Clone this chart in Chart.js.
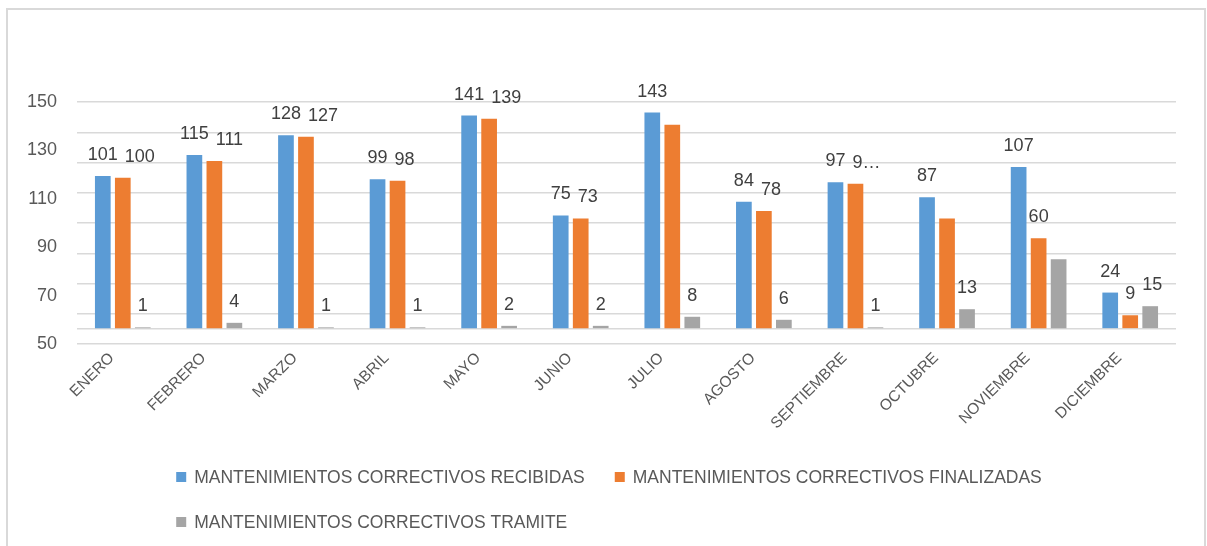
<!DOCTYPE html>
<html>
<head>
<meta charset="utf-8">
<title>Mantenimientos correctivos</title>
<script src="https://cdn.jsdelivr.net/npm/chart.js@4.4.1/dist/chart.umd.min.js"></script>
<style>
  html, body { margin: 0; padding: 0; background: #fff; overflow: hidden; }
  #frame { position: absolute; left: 6px; top: 8px; width: 1196px; height: 600px; border: 2px solid #d9d9d9; }
  #clip { width: 1196px; height: 518px; overflow: hidden; }
  canvas { display: block; }
</style>
</head>
<body>
<div id="frame"><div id="clip"><canvas id="chart" width="1196" height="560"></canvas></div></div>
<script>
// datos
const months = ['ENERO', 'FEBRERO', 'MARZO', 'ABRIL', 'MAYO', 'JUNIO', 'JULIO',
                'AGOSTO', 'SEPTIEMBRE', 'OCTUBRE', 'NOVIEMBRE', 'DICIEMBRE'];
const recibidas   = [101, 115, 128, 99, 141, 75, 143, 84, 97, 87, 107, 24];
const finalizadas = [100, 111, 127, 98, 139, 73, 135, 78, 96, 73, 60, 9];
const tramite     = [1, 4, 1, 1, 2, 2, 8, 6, 1, 13, 46, 15];

// etiquetas visibles sobre las barras ('' = sin etiqueta)
const recibidasLabels   = ['101', '115', '128', '99', '141', '75', '143', '84', '97', '87', '107', '24'];
const finalizadasLabels = ['100', '111', '127', '98', '139', '73', '', '78', '9…', '', '60', '9'];
const tramiteLabels     = ['1', '4', '1', '1', '2', '2', '8', '6', '1', '13', '', '15'];

const yTickLabels = [50, 70, 90, 110, 130, 150];
const gridValues = [-10, 0, 10, 30, 50, 70, 90, 110, 130, 150];

const family = "'Liberation Sans', Arial, sans-serif";
const labelSets = [recibidasLabels, finalizadasLabels, tramiteLabels];

const barLabels = {
  id: 'barLabels',
  afterDatasetsDraw(chart) {
    const ctx = chart.ctx;
    ctx.save();
    ctx.font = '18px ' + family;
    ctx.fillStyle = '#404040';
    ctx.textAlign = 'center';
    ctx.textBaseline = 'middle';
    months.forEach((m, i) => {
      const placed = [];
      labelSets.forEach((set, d) => {
        const text = set[i];
        if (!text) return;
        const el = chart.getDatasetMeta(d).data[i];
        const w = ctx.measureText(text).width;
        let cx = el.x;
        const cy = el.y - 21;
        placed.forEach(p => {
          if (Math.abs(cy - p.cy) < 18 && cx - w / 2 < p.right + 7) cx = p.right + 7 + w / 2;
        });
        placed.push({ cy, right: cx + w / 2 });
        ctx.fillText(text, cx, cy);
      });
    });
    ctx.restore();
  }
};

const bottomLegend = {
  id: 'bottomLegend',
  afterDraw(chart) {
    const ctx = chart.ctx;
    ctx.save();
    ctx.font = '17.5px ' + family;
    ctx.textAlign = 'left';
    ctx.textBaseline = 'middle';
    const items = chart.data.datasets.map(d => ({ text: d.label, color: d.backgroundColor, w: ctx.measureText(d.label).width }));
    const box = 10, gap = 8, colGap = 30;
    const rowW = items[0].w + items[1].w + 2 * (box + gap) + colGap;
    const x0 = chart.width / 2 - rowW / 2 + 3;
    const rows = [[items[0], items[1]], [items[2]]];
    const rowY = [467, 512];
    rows.forEach((row, r) => {
      let x = x0;
      row.forEach(it => {
        ctx.fillStyle = it.color;
        ctx.fillRect(x, rowY[r] - box / 2, box, box);
        ctx.fillStyle = '#595959';
        ctx.fillText(it.text, x + box + gap, rowY[r] + 1);
        x += box + gap + it.w + colGap;
      });
    });
    ctx.restore();
  }
};

new Chart(document.getElementById('chart'), {
  type: 'bar',
  data: {
    labels: months,
    datasets: [
      { label: 'MANTENIMIENTOS CORRECTIVOS RECIBIDAS', data: recibidas, backgroundColor: '#5B9BD5' },
      { label: 'MANTENIMIENTOS CORRECTIVOS FINALIZADAS', data: finalizadas, backgroundColor: '#ED7D31' },
      { label: 'MANTENIMIENTOS CORRECTIVOS TRAMITE', data: tramite, backgroundColor: '#A5A5A5' }
    ]
  },
  options: {
    responsive: false,
    animation: false,
    categoryPercentage: 0.655,
    barPercentage: 0.785,
    layout: { padding: { top: 92, right: 28, left: 0, bottom: 0 } },
    plugins: { legend: { display: false }, tooltip: { enabled: false } },
    scales: {
      x: {
        afterFit: s => { s.height = 226; },
        grid: { display: false, drawTicks: false },
        border: { display: false },
        ticks: { autoSkip: false, maxRotation: 45, minRotation: 45, padding: 5, labelOffset: -11,
                 color: '#595959', font: { size: 15.5, family } }
      },
      y: {
        min: -10, max: 150,
        afterBuildTicks: s => { s.ticks = gridValues.map(v => ({ value: v })); },
        afterFit: s => { s.width = 0; },
        ticks: { display: false },
        grid: { color: '#d9d9d9', lineWidth: 1.5, drawTicks: false },
        border: { display: false }
      },
      yLabels: {
        position: 'left',
        min: 50, max: 150,
        afterBuildTicks: s => { s.ticks = yTickLabels.map(v => ({ value: v })); },
        afterFit: s => { s.width = 69; },
        ticks: { padding: 20, color: '#595959', font: { size: 18, family } },
        grid: { display: false, drawTicks: false },
        border: { display: false }
      }
    }
  },
  plugins: [barLabels, bottomLegend]
});
</script>
</body>
</html>
